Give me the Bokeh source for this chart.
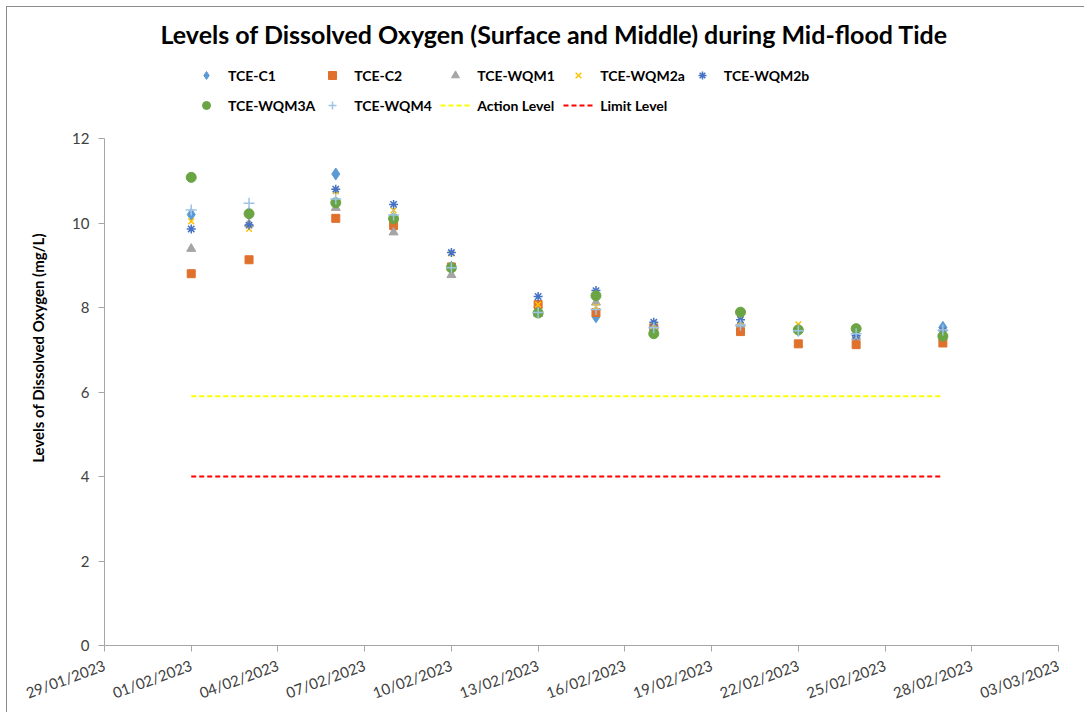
import pandas as pd
from bokeh.plotting import figure
from bokeh.models import (ColumnDataSource, FixedTicker, DatetimeTickFormatter, Legend,
                          LegendItem, Range1d)
from bokeh.embed import file_html
from bokeh.resources import INLINE

# ---------------- data ----------------
dates = ["2023-02-01", "2023-02-03", "2023-02-06", "2023-02-08", "2023-02-10", "2023-02-13",
         "2023-02-15", "2023-02-17", "2023-02-20", "2023-02-22", "2023-02-24", "2023-02-27"]
tce_c1 = [10.20, 10.22, 11.16, 10.02, 8.95, 8.00, 7.78, 7.55, 7.59, 7.46, 7.30, 7.53]
tce_c2 = [8.80, 9.13, 10.11, 9.94, 8.96, 8.07, 7.88, 7.52, 7.43, 7.14, 7.12, 7.16]
tce_wqm1 = [9.39, 9.98, 10.36, 9.78, 8.77, 7.85, 8.12, 7.55, 7.60, 7.48, 7.30, 7.40]
tce_wqm2a = [10.04, 9.86, 10.75, 10.30, 9.28, 8.07, 8.02, 7.56, 7.67, 7.60, 7.35, 7.45]
tce_wqm2b = [9.86, 9.95, 10.80, 10.44, 9.30, 8.26, 8.40, 7.65, 7.71, 7.47, 7.34, 7.45]
tce_wqm3a = [11.08, 10.22, 10.48, 10.10, 8.94, 7.87, 8.28, 7.38, 7.89, 7.47, 7.50, 7.32]
tce_wqm4 = [10.31, 10.47, 10.57, 10.19, 8.94, 7.88, 7.95, 7.52, 7.58, 7.45, 7.38, 7.47]
action_level = [5.9] * 12
limit_level = [4.0] * 12

tick_dates = ["2023-01-29", "2023-02-01", "2023-02-04", "2023-02-07", "2023-02-10", "2023-02-13",
              "2023-02-16", "2023-02-19", "2023-02-22", "2023-02-25", "2023-02-28", "2023-03-03"]
y_ticks = [0, 2, 4, 6, 8, 10, 12]
y_min, y_max = 0, 12

# name, values, marker, colour, size
series = [
    ("TCE-C1", tce_c1, "diamond", "#5B9BD5", 12),
    ("TCE-C2", tce_c2, "square", "#E0712C", 8),
    ("TCE-WQM1", tce_wqm1, "triangle", "#A5A5A5", 9),
    ("TCE-WQM2a", tce_wqm2a, "x", "#FFC000", 8),
    ("TCE-WQM2b", tce_wqm2b, "asterisk", "#4472C4", 9),
    ("TCE-WQM3A", tce_wqm3a, "circle", "#6AA443", 10),
    ("TCE-WQM4", tce_wqm4, "cross", "#9DC3E6", 11),
]

FONT = "Lato"

# layout (pixels)
W, H = 1084, 712
FRAME_LEFT, FRAME_RIGHT = 104, 1058
FRAME_TOP, AXIS_TOP, FRAME_BOTTOM = 50, 138, 645

x = pd.to_datetime(dates)
tick_ms = [int(pd.Timestamp(d).value // 10**6) for d in tick_dates]

p = figure(width=W, height=H, x_axis_type="datetime", output_backend="svg",
           toolbar_location=None, min_border_left=FRAME_LEFT, min_border_right=W - FRAME_RIGHT,
           min_border_bottom=H - FRAME_BOTTOM, min_border_top=FRAME_TOP,
           title="Levels of Dissolved Oxygen (Surface and Middle) during Mid-flood Tide")
p.x_range = Range1d(pd.Timestamp(tick_dates[0]), pd.Timestamp(tick_dates[-1]))
# the frame extends above the axis top to hold the legend; the axis is bounded to 0..12
p.y_range = Range1d(y_min, y_max * (FRAME_BOTTOM - FRAME_TOP) / (FRAME_BOTTOM - AXIS_TOP))

# chart-area border (top and left edges visible, as in the reference)
p.border_fill_color = None
p.background_fill_color = "white"
p.styles = {"background": "linear-gradient(#8c8c8c,#8c8c8c) 6px 6px / 1078px 1px no-repeat, "
                          "linear-gradient(#8c8c8c,#8c8c8c) 6px 6px / 1px 706px no-repeat, white"}

p.title.align = "left"
p.title.offset = 56
p.title.standoff = 4
p.title.text_font = FONT
p.title.text_font_size = "25px"
p.title.text_font_style = "bold"
p.title.text_color = "#000000"

p.xgrid.visible = False
p.ygrid.visible = False
p.outline_line_color = None

items = []
for name, vals, marker, color, size in series:
    src = ColumnDataSource(dict(x=x, y=vals))
    lw = 1.5 if marker in ("x", "asterisk", "cross") else 1
    r = p.scatter("x", "y", source=src, marker=marker, size=size,
                  fill_color=color, line_color=color, line_width=lw)
    items.append(LegendItem(label=name, renderers=[r]))

ra = p.line(x, action_level, line_color="#FFFF00", line_width=2, line_dash="5 3")
rl = p.line(x, limit_level, line_color="#FF0000", line_width=2, line_dash="5 3")
items.insert(7, LegendItem(label="Action Level", renderers=[ra]))
items.insert(8, LegendItem(label="Limit Level", renderers=[rl]))

# axes
p.xaxis.ticker = FixedTicker(ticks=tick_ms)
fmt = "%d/%m/%Y"
p.xaxis.formatter = DatetimeTickFormatter(days=fmt, months=fmt, years=fmt, hours=fmt,
                                          hourmin=fmt, minutes=fmt, minsec=fmt,
                                          seconds=fmt, milliseconds=fmt, microseconds=fmt)
p.xaxis.major_label_orientation = 0.35
p.xaxis.major_label_standoff = 13
p.yaxis.ticker = FixedTicker(ticks=y_ticks)
p.yaxis.bounds = (y_min, y_max)
p.yaxis.major_label_standoff = 9
for ax in (p.xaxis, p.yaxis):
    ax.axis_line_color = "#A6A6A6"
    ax.major_tick_line_color = "#A6A6A6"
    ax.major_tick_out = 6
    ax.major_tick_in = 0
    ax.minor_tick_line_color = None
    ax.major_label_text_font = FONT
    ax.major_label_text_font_size = "15px"
    ax.major_label_text_color = "#404040"
p.yaxis.axis_label = "Levels of Dissolved Oxygen (mg/L)"
p.yaxis.axis_label_text_font = FONT
p.yaxis.axis_label_text_font_size = "15px"
p.yaxis.axis_label_text_font_style = "bold"
p.yaxis.axis_label_text_color = "#000000"
p.yaxis.axis_label_standoff = 22

LEG_H = 4 + 28 + 2 + 28 + 4
legend = Legend(items=items, ncols=5, orientation="horizontal",
                location=(83, FRAME_BOTTOM - 57 - LEG_H),
                margin=0, padding=4, spacing=2, glyph_width=30, glyph_height=20,
                label_height=28, label_width=84, label_standoff=7,
                label_text_font=FONT, label_text_font_size="14px",
                label_text_font_style="bold", label_text_color="#000000",
                background_fill_alpha=0, border_line_alpha=0)
p.add_layout(legend, "center")

open("out.html", "w").write(file_html(p, INLINE))
